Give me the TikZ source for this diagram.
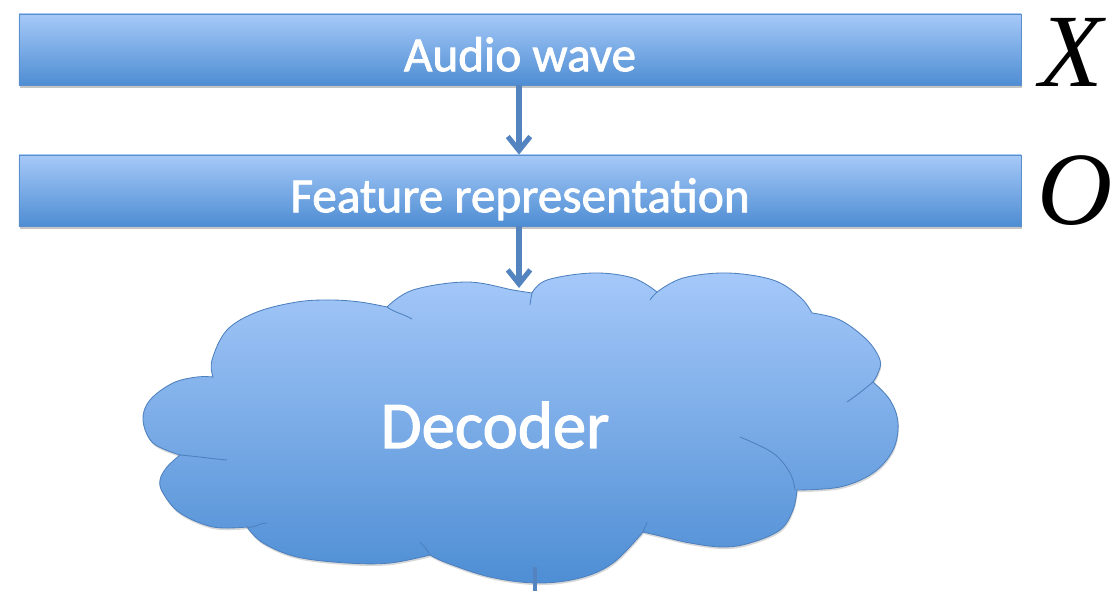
\documentclass[tikz,border=0pt]{standalone}
\usepackage{fontspec}
\setmainfont{Carlito}[FakeBold=1.6]
\newfontfamily\mathlike{Liberation Serif}
\usetikzlibrary{arrows.meta,shadows}
\definecolor{barTop}{HTML}{A6C9F8}
\definecolor{barBot}{HTML}{4E8DD3}
\definecolor{barEdge}{HTML}{5B8FCB}
\definecolor{arrowC}{HTML}{5384C0}
\definecolor{cloudTop}{HTML}{A5C8F9}
\definecolor{cloudBot}{HTML}{4E8ED4}
\definecolor{cloudEdge}{HTML}{4D80BE}
\tikzset{
  bar/.style={draw=barEdge, line width=0.5pt, top color=barTop, bottom color=barBot,
    minimum width=25.05cm, minimum height=1.775cm, inner sep=0pt,
    text=white, font=\fontsize{35}{35}\selectfont, text height=31pt, text depth=0pt,
    drop shadow={shadow xshift=0.6pt, shadow yshift=-2.2pt, opacity=0.45}},
  flow/.style={draw=arrowC, line width=4pt, -{Straight Barb[length=10pt,width=16pt,line width=3.6pt]}},
  flowline/.style={draw=arrowC, line width=3.4pt},
  varlabel/.style={font=\mathlike\itshape\fontsize{74}{74}\selectfont, inner sep=0pt, anchor=base},
  cloudline/.style={draw=cloudEdge, line width=0.6pt},
  puff/.style={smooth, tension=0.6}
}
\begin{document}
\begin{tikzpicture}[x=0.025cm,y=0.025cm]
\useasboundingbox (0,0) rectangle (1118,591);
\fill[white] (0,0) rectangle (1118,591);

% cloud
\path[cloudline, top color=cloudTop, bottom color=cloudBot,
      drop shadow={shadow xshift=0.5pt, shadow yshift=-1.5pt, opacity=0.3}]
  plot[puff] coordinates {(180,136) (153,148) (143,171) (150,191) (173,208) (197,214) (213,214)}
  -- plot[puff] coordinates {(213,214) (212,231) (227,261) (257,279) (297,289) (330,291) (360,289) (387,284)}
  -- plot[puff] coordinates {(387,284) (413,301) (467,309) (513,301) (532,298)}
  -- plot[puff] coordinates {(532,298) (547,311) (593,318) (633,313) (657,299)}
  -- plot[puff] coordinates {(657,299) (683,313) (727,318) (773,311) (800,294) (812,278)}
  -- plot[puff] coordinates {(812,278) (840,271) (867,251) (880,231) (878,218) (873,209)}
  -- plot[puff] coordinates {(873,209) (890,191) (898,168) (893,141) (873,118) (840,104) (797,101)}
  -- plot[puff] coordinates {(797,101) (793,81) (780,61) (750,48) (723,44) (690,48) (660,55) (643,59)}
  -- plot[puff] coordinates {(643,59) (613,28) (580,13) (537,8) (490,14) (447,28) (430,36)}
  -- plot[puff] coordinates {(430,36) (390,28) (347,28) (297,34) (263,48) (247,64)}
  -- plot[puff] coordinates {(247,64) (213,64) (180,78) (163,98) (160,111) (167,124) (180,136)}
  -- cycle;
% inner puff lines
\draw[cloudline] (387,284) to[out=-35,in=150] (412,272);
\draw[cloudline] (532,298) to[out=-100,in=85] (530,286);
\draw[cloudline] (657,299) to[out=-130,in=60] (650,291);
\draw[cloudline] (873,209) to[out=-140,in=35] (847,189);
\draw[cloudline] plot[puff] coordinates {(740,154) (773,138) (790,118) (795,101)};
\draw[cloudline] (643,59) to[out=80,in=-100] (647,69);
\draw[cloudline] (430,36) to[out=120,in=-45] (420,49);
\draw[cloudline] (247,64) to[out=-10,in=180] (267,68);
\draw[cloudline] (180,136) to[out=-5,in=175] (227,131);
\node[text=white, font=\fontsize{47.5}{47.5}\selectfont, inner sep=0pt, anchor=base] (dec) at (495,143) {Decoder};

% bars
\node[bar] (audio) at (520,541.5) {Audio wave};
\node[bar] (feat) at (520,400.5) {Feature representation};

% labels
\node[varlabel] (xlab) at (1071,504) {X};
\node[varlabel] (olab) at (1075,366) {O};

% connectors
\coordinate (ctop) at (519,303);
\coordinate (cbot) at (535,24);
\coordinate (bottomedge) at (535,0);
\draw[flow] (audio.south -| ctop) -- (feat.north -| ctop);
\draw[flow] (feat.south -| ctop) -- (ctop);
\draw[flowline] (cbot) -- (bottomedge);
\end{tikzpicture}
\end{document}
